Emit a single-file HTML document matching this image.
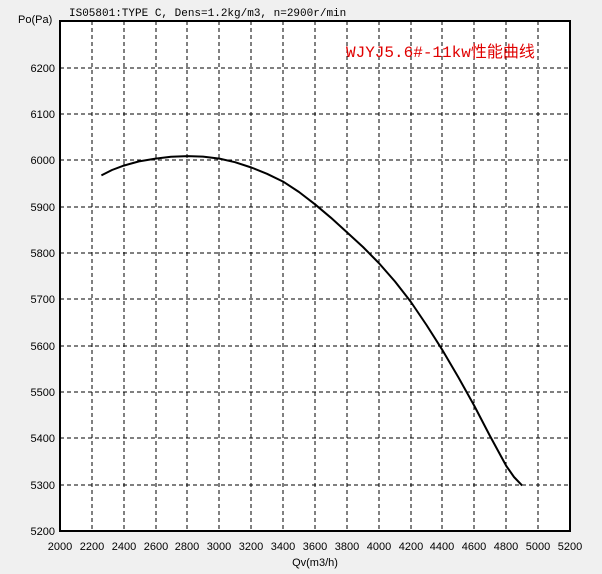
<!DOCTYPE html>
<html><head><style>
body{margin:0;background:#f0f0f0;}
svg{display:block;}
text{font-family:"Liberation Sans","WenQuanYi Zen Hei",sans-serif;font-size:11px;fill:#000;}
</style></head><body>
<svg width="602" height="574" viewBox="0 0 602 574">
<rect x="60" y="21" width="510" height="510" fill="#fff"/>
<g stroke="#000" stroke-width="1" stroke-dasharray="4,3">
<line x1="92" y1="21" x2="92" y2="531"/><line x1="124" y1="21" x2="124" y2="531"/>
<line x1="156" y1="21" x2="156" y2="531"/><line x1="187" y1="21" x2="187" y2="531"/>
<line x1="219" y1="21" x2="219" y2="531"/><line x1="251" y1="21" x2="251" y2="531"/>
<line x1="283" y1="21" x2="283" y2="531"/><line x1="315" y1="21" x2="315" y2="531"/>
<line x1="347" y1="21" x2="347" y2="531"/><line x1="379" y1="21" x2="379" y2="531"/>
<line x1="411" y1="21" x2="411" y2="531"/><line x1="442" y1="21" x2="442" y2="531"/>
<line x1="474" y1="21" x2="474" y2="531"/><line x1="506" y1="21" x2="506" y2="531"/>
<line x1="538" y1="21" x2="538" y2="531"/>
<line x1="60" y1="68" x2="570" y2="68"/><line x1="60" y1="114" x2="570" y2="114"/>
<line x1="60" y1="160" x2="570" y2="160"/><line x1="60" y1="207" x2="570" y2="207"/>
<line x1="60" y1="253" x2="570" y2="253"/><line x1="60" y1="299" x2="570" y2="299"/>
<line x1="60" y1="346" x2="570" y2="346"/><line x1="60" y1="392" x2="570" y2="392"/>
<line x1="60" y1="438" x2="570" y2="438"/><line x1="60" y1="485" x2="570" y2="485"/>
</g>
<rect x="60" y="21" width="510" height="510" fill="none" stroke="#000" stroke-width="2"/>
<polyline fill="none" stroke="#000" stroke-width="2" stroke-linejoin="round" points="101.4,175.4 112,170 123.8,165.6 139,161.4 155.6,158.6 171,156.8 187.5,156.1 203,156.6 219.4,158.6 235,162.2 251.3,167.5 267,173.8 283.1,181.6 299,192 315,204.3 331,217.8 346.9,232.2 363,247 378.8,263 395,281.5 410.6,301.5 426.5,325 442.5,350.2 458.5,377.5 474.4,406 490,436 506.3,466 514,477 522.2,485.6"/>
<g text-anchor="end">
<text x="55" y="72">6200</text><text x="55" y="118">6100</text><text x="55" y="164">6000</text>
<text x="55" y="211">5900</text><text x="55" y="257">5800</text><text x="55" y="303">5700</text>
<text x="55" y="350">5600</text><text x="55" y="396">5500</text><text x="55" y="442">5400</text>
<text x="55" y="489">5300</text><text x="55" y="535">5200</text>
</g>
<g text-anchor="middle">
<text x="60" y="550">2000</text><text x="92" y="550">2200</text><text x="124" y="550">2400</text>
<text x="156" y="550">2600</text><text x="187" y="550">2800</text><text x="219" y="550">3000</text>
<text x="251" y="550">3200</text><text x="283" y="550">3400</text><text x="315" y="550">3600</text>
<text x="347" y="550">3800</text><text x="379" y="550">4000</text><text x="411" y="550">4200</text>
<text x="442" y="550">4400</text><text x="474" y="550">4600</text><text x="506" y="550">4800</text>
<text x="538" y="550">5000</text><text x="570" y="550">5200</text>
<text x="315" y="566">Qv(m3/h)</text>
</g>
<text x="18" y="23">Po(Pa)</text>
<text x="69" y="16" style="font-family:'Liberation Mono',monospace">IS05801:TYPE C, Dens=1.2kg/m3, n=2900r/min</text>
<text x="346" y="57" style="font-size:16px;fill:#e00000;font-family:'Liberation Mono','WenQuanYi Zen Hei',monospace">WJYJ5.6#-11kw性能曲线</text>
</svg>
</body></html>
